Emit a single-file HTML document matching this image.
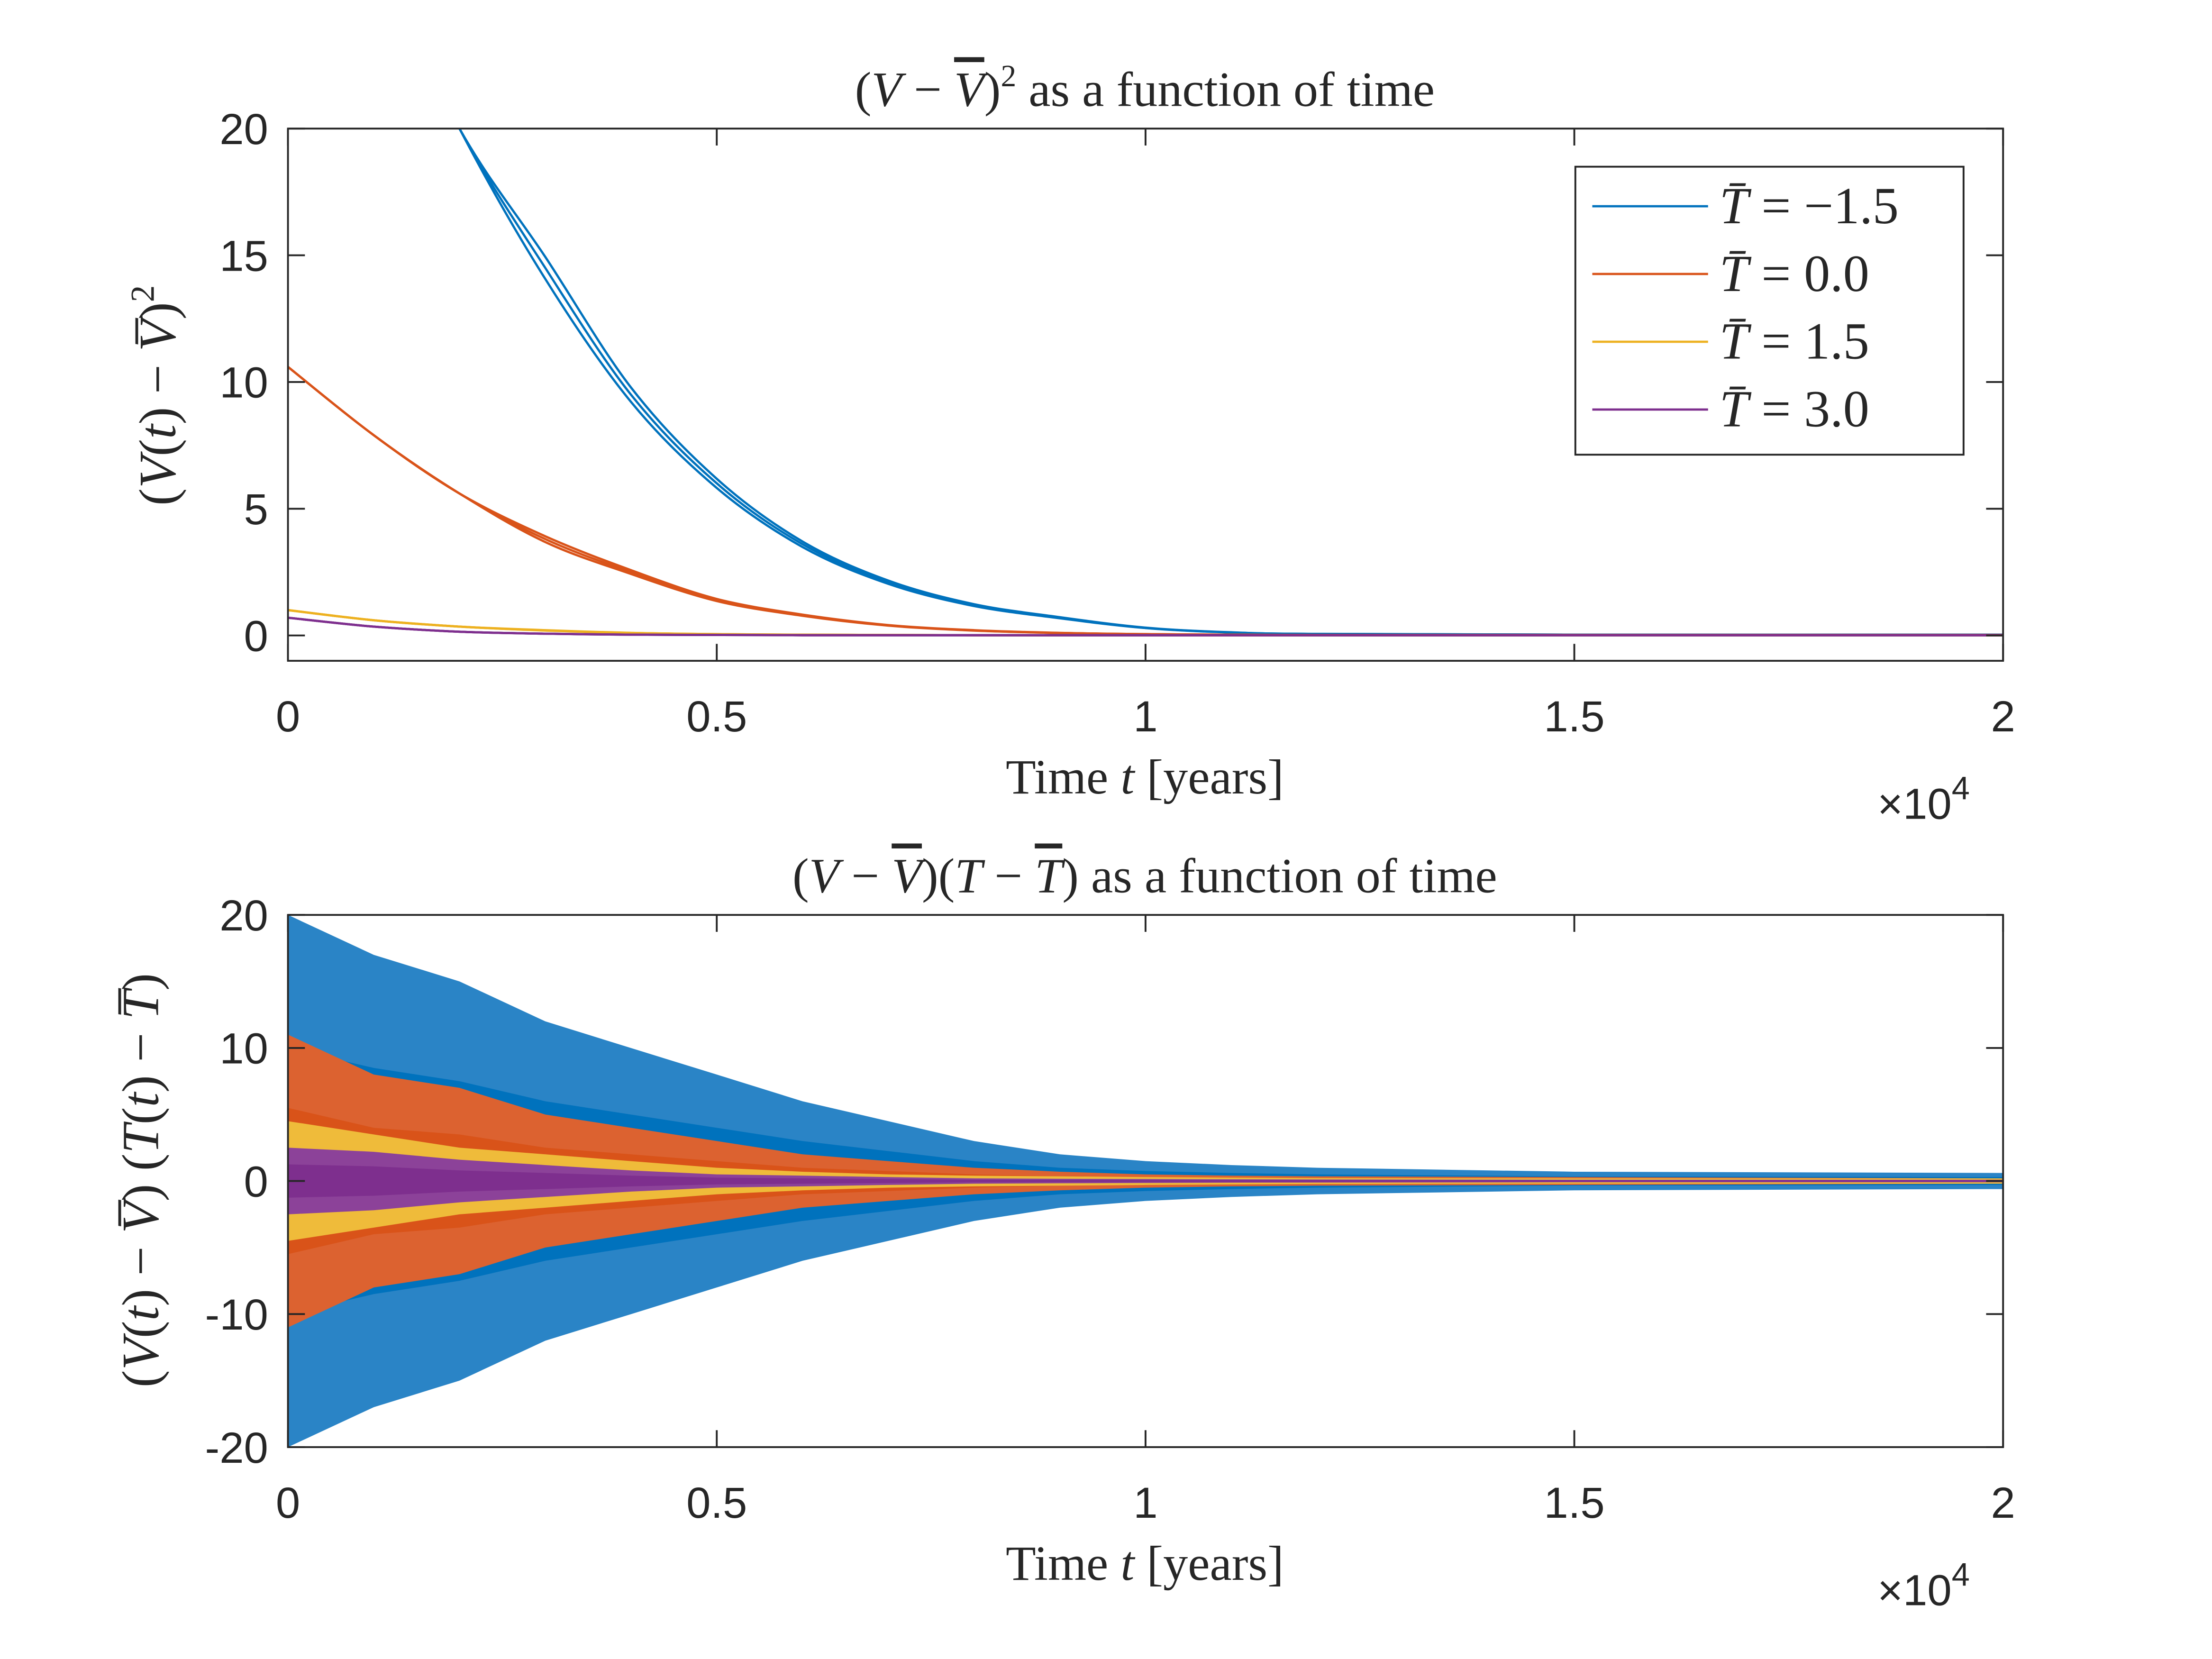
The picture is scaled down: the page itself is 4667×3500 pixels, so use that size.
<!DOCTYPE html>
<html><head><meta charset="utf-8"><style>
html,body{margin:0;padding:0;background:#fff;}
svg{display:block;}
.tk{font-family:"Liberation Sans",sans-serif;font-size:31px;fill:#262626;}
.sr{font-family:"Liberation Serif",serif;fill:#262626;}
</style></head><body>
<svg id="chart" width="4667" height="3500" viewBox="0 0 1567 1175" xmlns="http://www.w3.org/2000/svg">
<rect width="1567" height="1175" fill="#fff"/>
<g id="top"></g>
<g id="bot"></g>
</svg>
<script>
const xs=[0,0.1,0.2,0.3,0.4,0.5,0.6,0.7,0.8,0.9,1.0,1.1,1.2,1.5,2.0];
const topBlue=[36,27,20,14.5,9.5,6,3.6,2.1,1.2,0.7,0.3,0.12,0.06,0.03,0.03];
const topOrange=[10.6,7.9,5.6,3.8,2.5,1.4,0.8,0.4,0.2,0.1,0.05,0.03,0.02,0.02,0.02];
const topYellow=[1.0,0.6,0.35,0.2,0.1,0.05,0.03,0.02,0.01,0.01,0.01,0.01,0.01,0.01,0.01];
const topPurple=[0.7,0.35,0.15,0.07,0.03,0.02,0.01,0.01,0.01,0.01,0.01,0.01,0.01,0.01,0.01];
const envBlue=[20,17,15,12,10,8,6,4.5,3,2,1.5,1.2,1,0.7,0.6];
const envOrange=[11,8,7,5,4,3,2,1.5,1,0.7,0.5,0.4,0.35,0.3,0.2];
const envYellow=[4.5,3.5,2.5,2,1.5,1,0.7,0.5,0.4,0.35,0.3,0.25,0.22,0.2,0.2];
const envPurple=[2.5,2.2,1.6,1.2,0.8,0.5,0.4,0.3,0.2,0.17,0.15,0.13,0.12,0.1,0.1];
const xTicks=["0","0.5","1","1.5","2"];
const xTickVals=[0,0.5,1,1.5,2];
const topYTicks=[0,5,10,15,20];
const botYTicks=[-20,-10,0,10,20];
const legendLabels=["T\u0304 = \u22121.5","T\u0304 = 0.0","T\u0304 = 1.5","T\u0304 = 3.0"];
const colors=["#0072BD","#D95319","#EDB120","#7E2F8E"];
const outerColors=["#2a84c6","#dc6230","#efbb3a","#8c4299"];
const NS="http://www.w3.org/2000/svg";
function mk(p,t,a){const e=document.createElementNS(NS,t);for(const k in a)e.setAttribute(k,a[k]);p.appendChild(e);return e;}
const L=204,R=1419;
const sx=v=>L+(R-L)*v/2;
function smooth(pts){let d='M'+pts[0][0].toFixed(1)+','+pts[0][1].toFixed(1);
  for(let i=0;i<pts.length-1;i++){const p0=pts[i-1]||pts[i],p1=pts[i],p2=pts[i+1],p3=pts[i+2]||p2;
    const c1=[p1[0]+(p2[0]-p0[0])/6,p1[1]+(p2[1]-p0[1])/6],c2=[p2[0]-(p3[0]-p1[0])/6,p2[1]-(p3[1]-p1[1])/6];
    d+='C'+c1.map(v=>v.toFixed(1))+' '+c2.map(v=>v.toFixed(1))+' '+p2.map(v=>v.toFixed(1));}
  return d;}
function axes(g,T,B,ymin,ymax,clipId){
  const sy=v=>B-(B-T)*(v-ymin)/(ymax-ymin);
  const cp=mk(g,'clipPath',{id:clipId});mk(cp,'rect',{x:L,y:T,width:R-L,height:B-T});
  return sy;
}
function frame(g,T,B,sy,yt,title,ylabel,name){
  const f=mk(g,'rect',{x:L,y:T,width:R-L,height:B-T,fill:'none',stroke:'#262626','stroke-width':1.3});
  
  xTickVals.forEach((v,i)=>{const x=sx(v);
    mk(g,'line',{x1:x,x2:x,y1:B,y2:B-12,stroke:'#262626','stroke-width':1.3});
    mk(g,'line',{x1:x,x2:x,y1:T,y2:T+12,stroke:'#262626','stroke-width':1.3});
    const t=mk(g,'text',{x:x,y:B+50,'text-anchor':'middle',class:'tk'});t.textContent=xTicks[i];
    });
  yt.forEach(v=>{const y=sy(v);
    mk(g,'line',{x1:L,x2:L+12,y1:y,y2:y,stroke:'#262626','stroke-width':1.3});
    mk(g,'line',{x1:R,x2:R-12,y1:y,y2:y,stroke:'#262626','stroke-width':1.3});
    const t=mk(g,'text',{x:L-14,y:y+11,'text-anchor':'end',class:'tk'});t.textContent=String(v);
    });
  const xl=mk(g,'text',{x:811,y:B+94,'text-anchor':'middle',class:'sr','font-size':35});
  xl.innerHTML='Time <tspan font-style="italic">t</tspan> [years]';
  
  const ex=mk(g,'text',{x:1330,y:B+112,class:'tk','font-size':33});ex.innerHTML='\u00d710<tspan font-size="23" dy="-14">4</tspan>';
  
  const tt=mk(g,'text',{x:811,y:T-16,'text-anchor':'middle',class:'sr','font-size':35});tt.innerHTML=title;
  
  const yl=mk(g,'text',{x:0,y:0,'text-anchor':'middle',class:'sr','font-size':37,transform:ylabel.tr});yl.innerHTML=ylabel.txt;
  
}
// top
const gt=document.getElementById('top');
const sT=axes(gt,91,468,-1,20,'ct');
const gtl=mk(gt,'g',{'clip-path':'url(#ct)'});
[topBlue,topOrange,topYellow,topPurple].forEach((s,k)=>{
  [0,1,-1].forEach(off=>{
    const pts=xs.map((v,i)=>[sx(v),sT(s[i]*(1+off*0.03*(i>2?1:0)))]);
    const p=mk(gtl,'path',{d:smooth(pts),fill:'none',stroke:colors[k],'stroke-width':1.6,'stroke-linejoin':'round'});
    
  });
});
frame(gt,91,468,sT,topYTicks,'(<tspan font-style="italic">V</tspan> \u2212 <tspan font-style="italic" text-decoration="overline">V</tspan>)<tspan font-size="22" dy="-14">2</tspan><tspan dy="14"> as a function of time</tspan>',
 {tr:'translate(124,280) rotate(-90)',txt:'(<tspan font-style="italic">V</tspan>(<tspan font-style="italic">t</tspan>) \u2212 <tspan font-style="italic">V\u0305</tspan>)<tspan font-size="24" dy="-15">2</tspan>'},'top');
// legend
const lg=mk(gt,'g',{});
mk(lg,'rect',{x:1116,y:118,width:275,height:204,fill:'#fff',stroke:'#262626','stroke-width':1.3});
legendLabels.forEach((lab,i)=>{const y=146+48*i;
  const e=mk(lg,'g',{});
  mk(e,'line',{x1:1128,x2:1210,y1:y,y2:y,stroke:colors[i],'stroke-width':1.6});
  const t=mk(e,'text',{x:1218,y:y+12,class:'sr','font-size':37});
  t.innerHTML='<tspan font-style="italic">'+lab.slice(0,2)+'</tspan>'+lab.slice(2);});
// bottom
const gb=document.getElementById('bot');
const sB=axes(gb,648,1025,-20,20,'cb');
const gbl=mk(gb,'g',{'clip-path':'url(#cb)'});
[envBlue,envOrange,envYellow,envPurple].forEach((s,k)=>{
  [[1,outerColors[k]],[0.5,colors[k]]].forEach(([f,col])=>{
    const up=xs.map((v,i)=>sx(v).toFixed(1)+','+sB(s[i]*f).toFixed(1));
    const dn=xs.map((v,i)=>sx(v).toFixed(1)+','+sB(-s[i]*f).toFixed(1)).reverse();
    const p=mk(gbl,'polygon',{points:up.concat(dn).join(' '),fill:col});
    
  });
});
frame(gb,648,1025,sB,botYTicks,'(<tspan font-style="italic">V</tspan> \u2212 <tspan font-style="italic" text-decoration="overline">V</tspan>)(<tspan font-style="italic">T</tspan> \u2212 <tspan font-style="italic" text-decoration="overline">T</tspan>) as a function of time',
 {tr:'translate(112,836) rotate(-90)',txt:'(<tspan font-style="italic">V</tspan>(<tspan font-style="italic">t</tspan>) \u2212 <tspan font-style="italic">V\u0305</tspan>) (<tspan font-style="italic">T</tspan>(<tspan font-style="italic">t</tspan>) \u2212 <tspan font-style="italic">T\u0305</tspan>)'},'bottom');
</script>
</body></html>
